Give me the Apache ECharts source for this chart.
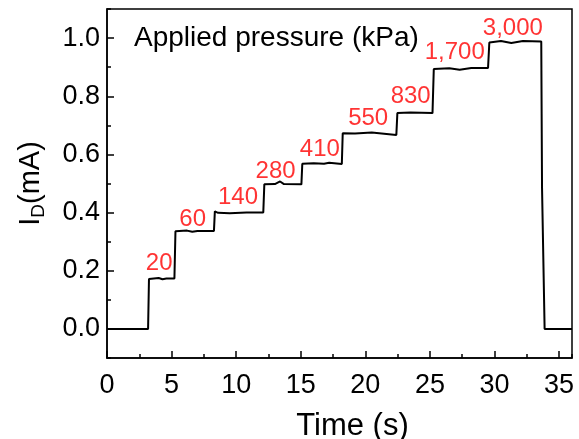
<!DOCTYPE html>
<html>
    <head>
        <title>pressure_steps</title>
        <script src="https://cdn.jsdelivr.net/npm/echarts@6/dist/echarts.min.js"></script>
        <style>
            html, body { margin: 0; padding: 0; background: #fff; }
        </style>
    </head>
    <body>
        <div id="main" style="width: 579px; height: 439px;"></div>
        <script>
            // drain current trace
            var time = [0, 3.18, 3.25, 4.0, 4.3, 4.6, 5.22, 5.3, 6.2, 6.6, 7.0, 8.28, 8.35, 8.6, 9.5, 10.8, 12.1,
                12.18, 13.0, 13.4, 13.7, 15.05, 15.12, 16.0, 16.8, 17.2, 18.18, 18.25, 19.2, 20.5, 22.4,
                22.48, 23.5, 25.2, 25.3, 26.5, 27.3, 28.2, 29.5, 29.6, 30.5, 31.3, 32.2, 33.62, 33.68, 33.88, 36];
            var current = [0, 0, 0.172, 0.175, 0.171, 0.173, 0.173, 0.336, 0.338, 0.334, 0.337, 0.337, 0.404, 0.399, 0.398, 0.400, 0.400,
                0.497, 0.498, 0.507, 0.498, 0.497, 0.568, 0.570, 0.568, 0.571, 0.567, 0.673, 0.672, 0.675, 0.667,
                0.742, 0.744, 0.742, 0.894, 0.896, 0.891, 0.897, 0.897, 0.985, 0.990, 0.983, 0.990, 0.988, 0.485, 0, 0];

            var pressureText = ['20', '60', '140', '280', '410', '550', '830', '1,700', '3,000'];
            var labelTime = [4.04, 6.63, 10.14, 13.05, 16.48, 20.22, 23.51, 26.92, 31.42];
            var labelLevel = [0.227, 0.378, 0.451, 0.542, 0.616, 0.725, 0.800, 0.952, 1.035];

            var yTicks = [0, 0.2, 0.4, 0.6, 0.8, 1.0];

            var font = '"Liberation Sans", Arial, sans-serif';

            var trace = time.map(function (t, i) { return [t, current[i]]; });
            var labels = labelTime.map(function (t, i) { return [t, labelLevel[i], pressureText[i]]; });

            var myChart = echarts.init(document.getElementById('main'));
            var option = {
                animation: false,
                title: {
                    text: 'Applied pressure (kPa)',
                    left: 134,
                    top: 14,
                    padding: 0,
                    textStyle: { fontFamily: font, fontSize: 28, fontWeight: 'normal', color: '#000' }
                },
                grid: {
                    left: 107, right: 7, top: 9, bottom: 81,
                    outerBoundsMode: 'none',
                    containLabel: false,
                    show: true, borderColor: '#000', borderWidth: 1.5
                },
                xAxis: [
                    {
                        type: 'value', min: 0, max: 36, interval: 5,
                        name: 'Time (s)', nameLocation: 'middle', nameGap: 42, nameMoveOverlap: false,
                        nameTextStyle: { fontFamily: font, fontSize: 31, color: '#000', padding: [0, 0, 0, 26] },
                        axisLine: { onZero: false, lineStyle: { color: '#000', width: 1.5 } },
                        axisTick: { inside: true, length: 7, lineStyle: { color: '#000', width: 1.5 } },
                        axisLabel: { fontFamily: font, fontSize: 27, color: '#000', margin: 4, showMaxLabel: false },
                        splitLine: { show: false }
                    },
                    {
                        type: 'value', min: 0, max: 36, interval: 2.5, position: 'bottom',
                        axisLine: { show: false, onZero: false },
                        axisTick: { inside: true, length: 4, lineStyle: { color: '#000', width: 1.5 } },
                        axisLabel: { show: false },
                        splitLine: { show: false }
                    }
                ],
                yAxis: [
                    {
                        type: 'value', min: -0.1, max: 1.1, position: 'left',
                        name: '{a|I}{b|D}{a|(mA)}', nameLocation: 'middle', nameGap: 52, nameMoveOverlap: false,
                        nameTextStyle: {
                            rich: {
                                a: { fontFamily: font, fontSize: 29, color: '#000', lineHeight: 48 },
                                b: { fontFamily: font, fontSize: 19, color: '#000', lineHeight: 19, verticalAlign: 'bottom' }
                            }
                        },
                        axisLine: { onZero: false, lineStyle: { color: '#000', width: 1.5 } },
                        axisTick: { inside: true, length: 7, customValues: yTicks, lineStyle: { color: '#000', width: 1.5 } },
                        axisLabel: {
                            customValues: yTicks, fontFamily: font, fontSize: 27, color: '#000', margin: 7,
                            formatter: function (v) { return v.toFixed(1); }
                        },
                        splitLine: { show: false }
                    },
                    {
                        type: 'value', min: -0.1, max: 1.1, interval: 0.1, position: 'left',
                        axisLine: { show: false, onZero: false },
                        axisTick: { inside: true, length: 4, lineStyle: { color: '#000', width: 1.5 } },
                        axisLabel: { show: false },
                        splitLine: { show: false }
                    }
                ],
                series: [
                    {
                        name: 'ID',
                        type: 'line',
                        xAxisIndex: 0, yAxisIndex: 0,
                        showSymbol: false,
                        symbol: 'none',
                        lineStyle: { color: '#000', width: 2 },
                        data: trace
                    },
                    {
                        name: 'pressure',
                        type: 'scatter',
                        xAxisIndex: 0, yAxisIndex: 0,
                        symbolSize: 0,
                        silent: true,
                        label: {
                            show: true,
                            position: 'inside',
                            formatter: function (p) { return p.data[2]; },
                            fontFamily: font, fontSize: 24, color: '#ff0000'
                        },
                        data: labels
                    }
                ]
            };
            myChart.setOption(option);
        </script>
    </body>
</html>
